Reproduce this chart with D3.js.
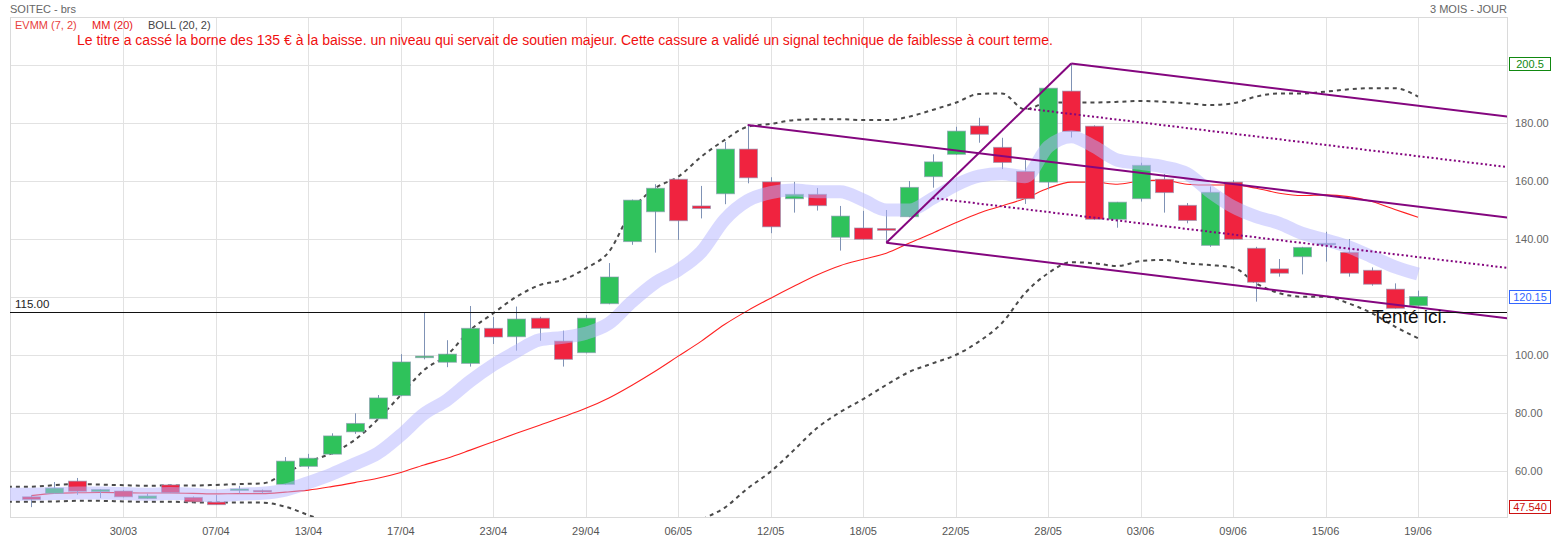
<!DOCTYPE html>
<html>
<head>
<meta charset="utf-8">
<script src="https://cdn.jsdelivr.net/npm/d3@7"></script>
<style>
  body { margin: 0; background: #fff; }
  svg { display: block; font-family: Arial, "Liberation Sans", sans-serif; }
</style>
</head>
<body>
<div id="chart"></div>
<script>
//////////////////////////////////////////////////////////////////////////////
// Data

var dates = ["24/03","25/03","26/03","27/03","30/03","31/03","01/04","02/04","07/04","08/04",
             "09/04","10/04","13/04","14/04","15/04","16/04","17/04","20/04","21/04","22/04",
             "23/04","24/04","27/04","28/04","29/04","30/04","04/05","05/05","06/05","07/05",
             "08/05","11/05","12/05","13/05","14/05","15/05","18/05","19/05","20/05","21/05",
             "22/05","25/05","26/05","27/05","28/05","29/05","01/06","02/06","03/06","04/06",
             "05/06","08/06","09/06","10/06","11/06","12/06","15/06","16/06","17/06","18/06",
             "19/06"];

var opens  = [51.1,52.3,56.5,52.9,53.1,50.5,55.2,50.9,49.3,53.3, 53.3,55.4,61.6,65.8,73.5,78.0,86.0,99.1,97.5,97.1,
              109.2,106.3,112.7,104.8,100.8,117.7,139.1,149.4,160.6,151.4, 155.6,171.0,159.7,153.9,155.4,140.6,143.8,143.6,147.7,161.5,
              169.2,179.0,171.6,163.3,159.6,191.0,178.9,146.8,153.9,160.6, 151.6,137.8,159.6,136.8,129.7,133.9,138.5,135.4,129.2,122.7,
              117.0];
var highs  = [51.7,56.2,57.6,53.8,53.4,52.2,55.4,51.2,51.7,54.9, 53.6,64.8,65.9,73.0,79.9,86.2,100.3,114.7,105.1,116.9,
              113.1,116.7,113.2,108.4,113.8,131.7,153.6,158.9,160.8,158.3, 173.5,179.3,161.3,159.7,157.6,151.4,149.7,150.0,160.0,169.2,
              178.7,181.8,174.9,167.2,192.0,200.5,179.2,152.8,166.3,162.4, 152.4,158.1,160.3,137.3,133.1,137.3,142.5,140.0,130.2,124.7,
              122.2];
var lows   = [47.54,52.2,51.8,50.7,50.9,50.4,52.4,49.2,48.3,52.3, 52.3,55.3,60.8,65.6,72.8,77.8,85.8,98.5,95.8,96.0,
              103.8,101.5,104.9,96.0,100.6,117.5,138.0,135.3,139.7,147.1, 152.0,159.2,142.0,149.1,149.8,136.0,139.7,138.7,147.5,157.7,
              169.0,173.2,164.1,152.1,157.1,175.0,146.6,143.9,152.9,149.1, 145.4,137.3,139.7,118.4,127.0,127.8,132.2,127.0,123.9,116.0,
              116.8];
var closes = [50.2,54.1,53.0,53.6,51.1,51.4,52.5,49.4,48.4,53.8, 52.9,63.4,64.4,72.1,76.4,85.2,97.6,99.6,100.3,109.2,
              106.2,112.4,109.2,98.5,112.7,126.9,153.4,157.5,146.3,150.5, 171.0,161.1,144.2,155.4,151.5,147.9,139.9,143.0,157.8,166.6,
              177.2,176.1,166.4,153.9,192.0,177.1,146.8,152.7,165.4,156.0, 146.4,156.1,139.9,125.1,128.2,137.1,138.5,128.2,124.4,116.1,
              120.15];

// MM (20), from the first candle
var mm20 = [51.5,52.3,52.5,52.6,52.5,52.4,52.4,52.3,52.1,52.2, 52.2,52.7,53.4,54.6,56.0,57.5,59.5,62.1,64.4,67.2,
            70.1,73.0,75.8,78.6,81.6,85.2,89.6,94.4,99.6,104.8, 110.5,115.3,119.6,123.7,127.6,130.8,133.0,135.1,138.6,142.0,
            145.6,148.9,151.4,154.0,157.5,159.6,159.6,158.9,160.0,160.3, 158.9,158.6,158.6,157.5,155.8,155.0,155.2,154.6,152.9,150.2,
            147.5];

// EVMM (7, 2) and BOLL (20, 2), starting one session before the first candle
var indStart = -1;
var evmm = [52.0, 52.0,52.2,52.4,52.4,52.2,52.0,52.2,52.0,51.4,52.0, 52.3,53.4,56.0,58.9,62.4,66.1,72.4,79.7,84.5,91.0,
            96.6,101.2,105.2,106.1,107.5,110.9,118.4,124.9,129.3,135.6, 146.6,153.2,156.0,156.9,156.3,156.3,153.4,150.0,150.0,154.0,
            158.6,161.7,162.5,161.5,171.8,175.3,171.8,167.2,166.1,164.9, 162.6,156.3,151.1,147.7,145.4,141.9,139.7,137.3,133.9,130.4,
            127.9];
var bollUp = [54.6, 54.6,55.1,55.5,55.3,55.1,54.9,55.0,55.0,55.2,55.5, 55.7,59.2,63.2,66.1,70.7,77.8,86.2,94.8,100.0,108.6,
              114.4,120.1,124.1,125.9,129.9,135.6,150.0,157.5,161.5,168.4, 174.1,178.7,179.7,181.0,181.3,181.3,181.0,181.0,182.2,184.5,
              187.0,190.0,190.2,184.7,187.1,187.1,187.1,187.3,187.6,187.3, 186.8,186.2,186.8,189.1,190.2,190.2,190.8,191.6,192.0,192.0,
              189.1];
var bollLow = [49.4, 49.4,49.5,49.7,49.7,49.5,49.4,49.4,49.2,49.1,49.1, 49.1,47.7,44.8,42.0,38.0,33.0,27.0,22.0,18.0,14.0,
               11.0,9.0,8.0,8.0,10.0,14.0,20.0,28.0,37.0,43.0, 47.3,54.0,59.8,67.2,74.8,80.3,84.8,89.7,94.2,97.1,
               100.0,104.6,111.0,121.3,128.2,132.0,131.6,130.7,132.4,132.8, 131.6,131.0,130.2,124.7,121.3,120.1,120.1,117.8,114.4,109.8,
               105.8];

// Andrews pitchfork pivots (candle index, price)
var forkIdx = [31, 37, 45];
var forkVal = [179.3, 138.7, 200.5];

var priceTicks = [60, 80, 100, 120, 140, 160, 180, 200];
var priceLabels = [60, 80, 100, 140, 160, 180];
var tickEvery = 4;

var levelLine = 115;
var lastClose = 120.15, periodHigh = 200.5, periodLow = 47.54;

var title = "SOITEC - brs";
var period = "3 MOIS - JOUR";
var comment = "Le titre a cassé la borne des 135 € à la baisse. un niveau qui servait de soutien majeur. Cette cassure a validé un signal technique de faiblesse à court terme.";
var note = "Tenté ici.";

//////////////////////////////////////////////////////////////////////////////

var W = 1553, H = 541;
var pL = 10, pR = 1507, pT = 17, pB = 517;

var xScale = d3.scaleLinear().domain([0, dates.length - 1]).range([31, 1418]);
var yScale = d3.scaleLinear().domain([60, 200]).range([471, 65]);
var bodyW = 18;

var svg = d3.select("#chart").append("svg")
    .attr("width", W)
    .attr("height", H);

svg.append("defs").append("clipPath").attr("id", "plotclip")
    .append("rect")
    .attr("x", pL).attr("y", pT)
    .attr("width", pR - pL).attr("height", pB - pT);

// grid
var grid = svg.append("g");
grid.selectAll("line.h").data(priceTicks).enter().append("line")
    .attr("x1", pL).attr("x2", pR)
    .attr("y1", function(d) { return Math.round(yScale(d)) + 0.5; })
    .attr("y2", function(d) { return Math.round(yScale(d)) + 0.5; })
    .attr("stroke", "#e2e2e2");

var tickIdx = d3.range(tickEvery, dates.length, tickEvery);
grid.selectAll("line.v").data(tickIdx).enter().append("line")
    .attr("x1", function(d) { return Math.round(xScale(d)) + 0.5; })
    .attr("x2", function(d) { return Math.round(xScale(d)) + 0.5; })
    .attr("y1", pT).attr("y2", pB)
    .attr("stroke", "#e2e2e2");

grid.append("rect")
    .attr("x", pL + 0.5).attr("y", pT + 0.5)
    .attr("width", pR - pL).attr("height", pB - pT)
    .attr("fill", "none").attr("stroke", "#dadada");

// axes labels
svg.append("g").selectAll("text").data(tickIdx).enter().append("text")
    .attr("x", function(d) { return xScale(d); })
    .attr("y", 535)
    .attr("text-anchor", "middle")
    .attr("font-size", 11)
    .attr("fill", "#555")
    .text(function(d) { return dates[d]; });

svg.append("g").selectAll("text").data(priceLabels).enter().append("text")
    .attr("x", 1515)
    .attr("y", function(d) { return yScale(d) + 4; })
    .attr("font-size", 11)
    .attr("fill", "#666")
    .text(function(d) { return d.toFixed(2); });

var plot = svg.append("g").attr("clip-path", "url(#plotclip)");

function ind(arr) {
    return arr.map(function(v, i) { return { i: i + indStart, v: v }; });
}
var line = d3.line()
    .x(function(d) { return xScale(d.i); })
    .y(function(d) { return yScale(d.v); })
    .curve(d3.curveMonotoneX);

// bollinger
[bollUp, bollLow].forEach(function(arr) {
    plot.append("path")
        .attr("d", line(ind(arr)))
        .attr("fill", "none")
        .attr("stroke", "#4a4a4a")
        .attr("stroke-width", 2)
        .attr("stroke-dasharray", "4,4");
});

// MM 20
plot.append("path")
    .attr("d", line(mm20.map(function(v, i) { return { i: i, v: v }; })))
    .attr("fill", "none")
    .attr("stroke", "#ff2222")
    .attr("stroke-width", 1.1);

// candles
var candles = dates.map(function(d, i) {
    return { i: i, o: opens[i], h: highs[i], l: lows[i], c: closes[i] };
});
function candleColor(d) {
    if (d.c > d.o) return "#2fc25b";
    if (d.c < d.o) return "#f0233f";
    return "#8494b6";
}

var cg = plot.append("g").selectAll("g").data(candles).enter().append("g");
cg.append("line")
    .attr("x1", function(d) { return Math.round(xScale(d.i)) + 0.5; })
    .attr("x2", function(d) { return Math.round(xScale(d.i)) + 0.5; })
    .attr("y1", function(d) { return yScale(d.h); })
    .attr("y2", function(d) { return yScale(d.l); })
    .attr("stroke", "#7f92b5")
    .attr("stroke-width", 1);
cg.append("rect")
    .attr("x", function(d) { return Math.round(xScale(d.i) - bodyW / 2) + 0.5; })
    .attr("y", function(d) { return yScale(Math.max(d.o, d.c)); })
    .attr("width", bodyW)
    .attr("height", function(d) { return Math.max(1.5, Math.abs(yScale(d.o) - yScale(d.c))); })
    .attr("fill", candleColor)
    .attr("stroke", function(d) { return d.c === d.o ? "#8494b6" : "#8a95b3"; })
    .attr("stroke-opacity", 0.6)
    .attr("stroke-width", 1);

// EVMM band
plot.append("path")
    .attr("d", line(ind(evmm)))
    .attr("fill", "none")
    .attr("stroke", "#b4b4ff")
    .attr("stroke-opacity", 0.5)
    .attr("stroke-width", 13)
    .attr("stroke-linecap", "butt");

// pitchfork
var p1 = { i: forkIdx[0], v: forkVal[0] };
var p2 = { i: forkIdx[1], v: forkVal[1] };
var p3 = { i: forkIdx[2], v: forkVal[2] };
var mid = { i: (p2.i + p3.i) / 2, v: (p2.v + p3.v) / 2 };
var slope = (mid.v - p1.v) / (mid.i - p1.i);
var endI = xScale.invert(pR + 5);

function ray(p) {
    return [[xScale(p.i), yScale(p.v)], [xScale(endI), yScale(p.v + slope * (endI - p.i))]];
}
function along(t) {
    return { i: p2.i + t * (p3.i - p2.i), v: p2.v + t * (p3.v - p2.v) };
}
var solidRays = [ray(p1), ray(p2), ray(p3), [[xScale(p2.i), yScale(p2.v)], [xScale(p3.i), yScale(p3.v)]]];
var dottedRays = [ray(along(0.25)), ray(along(0.75))];

plot.append("g").selectAll("path").data(solidRays).enter().append("path")
    .attr("d", d3.line())
    .attr("fill", "none")
    .attr("stroke", "#84067f")
    .attr("stroke-width", 2);
plot.append("g").selectAll("path").data(dottedRays).enter().append("path")
    .attr("d", d3.line())
    .attr("fill", "none")
    .attr("stroke", "#84067f")
    .attr("stroke-width", 2)
    .attr("stroke-dasharray", "2,2.5");

// 115 level
plot.append("line")
    .attr("x1", pL).attr("x2", pR)
    .attr("y1", Math.round(yScale(levelLine)) + 0.5)
    .attr("y2", Math.round(yScale(levelLine)) + 0.5)
    .attr("stroke", "#111")
    .attr("stroke-width", 1);
svg.append("text")
    .attr("x", 15).attr("y", yScale(levelLine) - 4)
    .attr("font-size", 11.5)
    .attr("fill", "#222")
    .text(levelLine.toFixed(2));

// note
svg.append("text")
    .attr("x", 1372).attr("y", 323)
    .attr("font-size", 19)
    .attr("fill", "#111")
    .text(note);

// value boxes on the right
var boxes = [
    { v: periodHigh, t: "200.5", c: "#118811" },
    { v: lastClose, t: "120.15", c: "#3366ff" },
    { v: periodLow, t: "47.540", c: "#cc1111" }
];
var bx = svg.append("g").selectAll("g").data(boxes).enter().append("g");
bx.append("rect")
    .attr("x", 1509.5)
    .attr("y", function(d) { return Math.round(yScale(d.v)) - 6.5; })
    .attr("width", 41).attr("height", 13)
    .attr("fill", "#fff")
    .attr("stroke", function(d) { return d.c; });
bx.append("text")
    .attr("x", 1530)
    .attr("y", function(d) { return Math.round(yScale(d.v)) + 4; })
    .attr("text-anchor", "middle")
    .attr("font-size", 11)
    .attr("fill", function(d) { return d.c; })
    .text(function(d) { return d.t; });

// header
svg.append("text").attr("x", 10).attr("y", 13)
    .attr("font-size", 11).attr("fill", "#666").text(title);
svg.append("text").attr("x", 1507).attr("y", 13).attr("text-anchor", "end")
    .attr("font-size", 11).attr("fill", "#666").text(period);

var legend = [
    { t: "EVMM (7, 2)", x: 15, c: "#e8413c" },
    { t: "MM (20)", x: 92, c: "#e81818" },
    { t: "BOLL (20, 2)", x: 148, c: "#444" }
];
svg.append("g").selectAll("text").data(legend).enter().append("text")
    .attr("x", function(d) { return d.x; })
    .attr("y", 29)
    .attr("font-size", 11)
    .attr("fill", function(d) { return d.c; })
    .text(function(d) { return d.t; });

svg.append("text")
    .attr("x", 77).attr("y", 45)
    .attr("font-size", 14)
    .attr("fill", "#f01010")
    .text(comment);
</script>
</body>
</html>
